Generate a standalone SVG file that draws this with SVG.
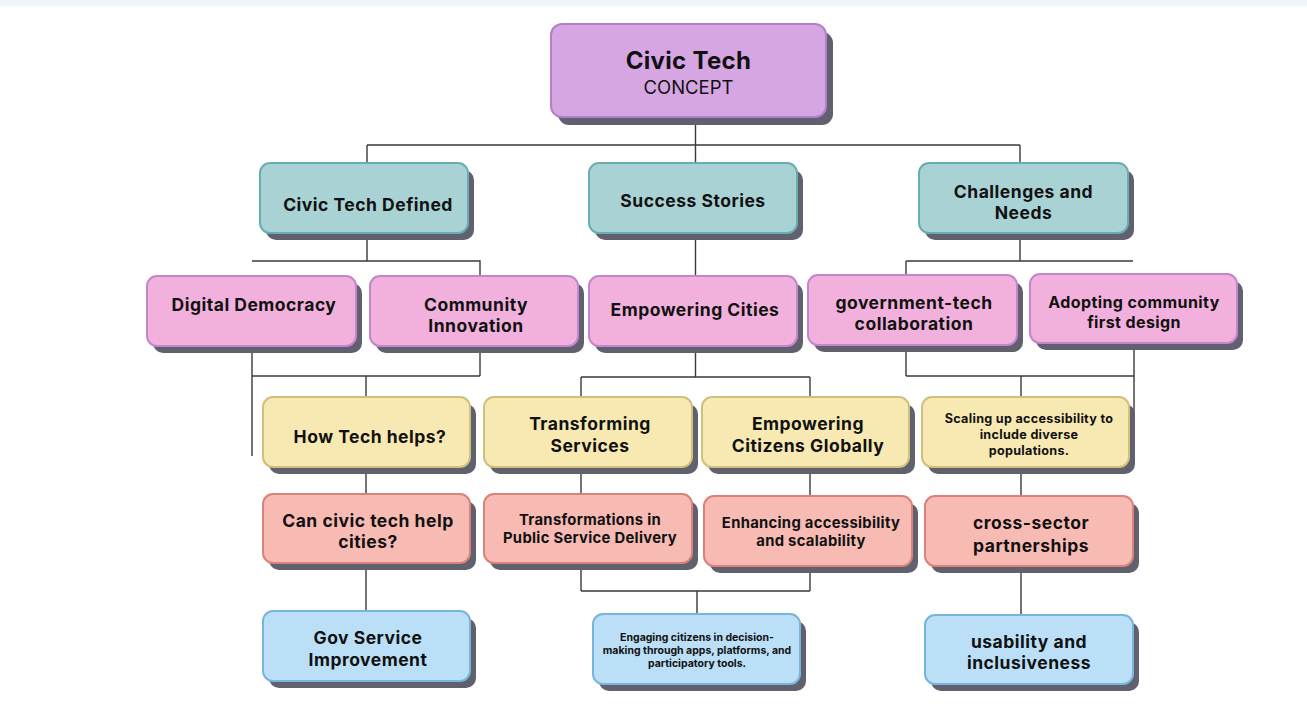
<svg xmlns="http://www.w3.org/2000/svg" width="1307" height="706" viewBox="0 0 1307 706">
  <style>
    .shadow { fill: #61606e; }
    .box { stroke-width: 2; }
    .concept { fill: #d6a6e3; stroke: #b27fc8; }
    .topic { fill: #a9d2d4; stroke: #6aadb1; }
    .sub { fill: #f1b1dc; stroke: #c485cf; }
    .q { fill: #f7e9b1; stroke: #cfc07b; }
    .pt { fill: #f8bbb4; stroke: #d9827b; }
    .out { fill: #badff6; stroke: #78b5dc; }
    text { font-family: Inter, "Liberation Sans", sans-serif; font-weight: 700; fill: #111; text-anchor: middle; }
    .t17 { font-size: 17.5px; letter-spacing: 0.5px; }
    .t15 { font-size: 16px; letter-spacing: 0.4px; }
    .t14 { font-size: 14.8px; letter-spacing: 0.3px; }
    .t12 { font-size: 12.6px; letter-spacing: 0.3px; }
    .t10 { font-size: 10.5px; }
    .links path { fill: none; stroke: #3a3a3a; stroke-width: 1.4; }
  </style>

  <!-- page band -->
  <rect x="0" y="0" width="1307" height="6" fill="#f0f4fb"/>
  <rect x="0" y="6" width="1307" height="700" fill="#ffffff"/>

  <!-- connectors -->
  <g class="links" id="connectors">
    <path d="M695.5,117 V163 M367,145 H1020 M367,145 V163 M1020,145 V163"/>
    <path d="M367,233 V261 M252,261 H480 V276"/>
    <path d="M695.5,233 V276"/>
    <path d="M1020,233 V261 M906,261 H1133 M906,261 V275"/>
    <path d="M252,346 V456 M480,346 V376 M252,376 H480 M366,376 V397"/>
    <path d="M695.5,346 V377 M581,377 H810 M581,377 V397 M810,377 V397"/>
    <path d="M906,345 V376 M1134,343 V460 M906,376 H1134 M1021,376 V397"/>
    <path d="M366,467 V494 M581,467 V494 M810,467 V496 M1021,467 V496"/>
    <path d="M366,563 V611"/>
    <path d="M581,563 V591 M810,566 V591 M581,591 H810 M697,591 V614"/>
    <path d="M1021,566 V615"/>
  </g>

  <!-- root -->
  <g id="civic-tech">
    <rect class="shadow" x="558" y="32" width="275" height="93" rx="11"/>
    <rect class="box concept" x="551" y="24" width="275" height="93" rx="11"/>
    <text x="688.5" y="69" style="font-size:24px;letter-spacing:0.3px">Civic Tech</text>
    <text x="688.5" y="94" style="font-size:18.5px;font-weight:400">CONCEPT</text>
  </g>

  <!-- level 2 -->
  <g id="civic-tech-defined">
    <rect class="shadow" x="266" y="170" width="208" height="70" rx="10"/>
    <rect class="box topic" x="260" y="163" width="208" height="70" rx="10"/>
    <text class="t17" x="368" y="211">Civic Tech Defined</text>
  </g>
  <g id="success-stories">
    <rect class="shadow" x="595" y="170" width="208" height="70" rx="10"/>
    <rect class="box topic" x="589" y="163" width="208" height="70" rx="10"/>
    <text class="t17" x="693" y="207">Success Stories</text>
  </g>
  <g id="challenges-needs">
    <rect class="shadow" x="925" y="170" width="209" height="70" rx="10"/>
    <rect class="box topic" x="919" y="163" width="209" height="70" rx="10"/>
    <text class="t17" x="1023.5" y="198">Challenges and</text>
    <text class="t17" x="1023.5" y="219">Needs</text>
  </g>

  <!-- level 3 -->
  <g id="digital-democracy">
    <rect class="shadow" x="153" y="283" width="209" height="70" rx="10"/>
    <rect class="box sub" x="147" y="276" width="209" height="70" rx="10"/>
    <text class="t17" x="254" y="311">Digital Democracy</text>
  </g>
  <g id="community-innovation">
    <rect class="shadow" x="376" y="283" width="208" height="70" rx="10"/>
    <rect class="box sub" x="370" y="276" width="208" height="70" rx="10"/>
    <text class="t17" x="476" y="311">Community</text>
    <text class="t17" x="476" y="332">Innovation</text>
  </g>
  <g id="empowering-cities">
    <rect class="shadow" x="595" y="283" width="208" height="70" rx="10"/>
    <rect class="box sub" x="589" y="276" width="208" height="70" rx="10"/>
    <text class="t17" x="695" y="316">Empowering Cities</text>
  </g>
  <g id="government-tech">
    <rect class="shadow" x="814" y="282" width="209" height="70" rx="10"/>
    <rect class="box sub" x="808" y="275" width="209" height="70" rx="10"/>
    <text class="t17" x="914" y="309">government-tech</text>
    <text class="t17" x="914" y="330">collaboration</text>
  </g>
  <g id="community-first">
    <rect class="shadow" x="1036" y="281" width="207" height="69" rx="10"/>
    <rect class="box sub" x="1030" y="274" width="207" height="69" rx="10"/>
    <text class="t15" x="1134" y="308">Adopting community</text>
    <text class="t15" x="1134" y="328">first design</text>
  </g>

  <!-- level 4 -->
  <g id="how-tech-helps">
    <rect class="shadow" x="269" y="404" width="207" height="70" rx="10"/>
    <rect class="box q" x="263" y="397" width="207" height="70" rx="10"/>
    <text class="t17" x="370" y="443">How Tech helps?</text>
  </g>
  <g id="transforming-services">
    <rect class="shadow" x="490" y="404" width="208" height="70" rx="10"/>
    <rect class="box q" x="484" y="397" width="208" height="70" rx="10"/>
    <text class="t17" x="590" y="430">Transforming</text>
    <text class="t17" x="590" y="452">Services</text>
  </g>
  <g id="empowering-citizens">
    <rect class="shadow" x="708" y="404" width="207" height="70" rx="10"/>
    <rect class="box q" x="702" y="397" width="207" height="70" rx="10"/>
    <text class="t17" x="808" y="430">Empowering</text>
    <text class="t17" x="808" y="452">Citizens Globally</text>
  </g>
  <g id="scaling-accessibility">
    <rect class="shadow" x="928" y="404" width="207" height="70" rx="10"/>
    <rect class="box q" x="922" y="397" width="207" height="70" rx="10"/>
    <text class="t12" x="1029" y="423">Scaling up accessibility to</text>
    <text class="t12" x="1029" y="439">include diverse</text>
    <text class="t12" x="1029" y="455">populations.</text>
  </g>

  <!-- level 5 -->
  <g id="can-civic-tech">
    <rect class="shadow" x="269" y="501" width="207" height="69" rx="10"/>
    <rect class="box pt" x="263" y="494" width="207" height="69" rx="10"/>
    <text class="t17" x="368" y="527">Can civic tech help</text>
    <text class="t17" x="368" y="548">cities?</text>
  </g>
  <g id="public-service-delivery">
    <rect class="shadow" x="490" y="501" width="208" height="69" rx="10"/>
    <rect class="box pt" x="484" y="494" width="208" height="69" rx="10"/>
    <text class="t14" x="590" y="525">Transformations in</text>
    <text class="t14" x="590" y="543">Public Service Delivery</text>
  </g>
  <g id="accessibility-scalability">
    <rect class="shadow" x="710" y="503" width="208" height="70" rx="10"/>
    <rect class="box pt" x="704" y="496" width="208" height="70" rx="10"/>
    <text class="t14" x="811" y="528">Enhancing accessibility</text>
    <text class="t14" x="811" y="546">and scalability</text>
  </g>
  <g id="cross-sector">
    <rect class="shadow" x="931" y="503" width="208" height="70" rx="10"/>
    <rect class="box pt" x="925" y="496" width="208" height="70" rx="10"/>
    <text class="t17" x="1031" y="529">cross-sector</text>
    <text class="t17" x="1031" y="552">partnerships</text>
  </g>

  <!-- level 6 -->
  <g id="gov-service">
    <rect class="shadow" x="269" y="618" width="207" height="70" rx="10"/>
    <rect class="box out" x="263" y="611" width="207" height="70" rx="10"/>
    <text class="t17" x="368" y="644">Gov Service</text>
    <text class="t17" x="368" y="666">Improvement</text>
  </g>
  <g id="engaging-citizens">
    <rect class="shadow" x="599" y="621" width="207" height="70" rx="10"/>
    <rect class="box out" x="593" y="614" width="207" height="70" rx="10"/>
    <text class="t10" x="697" y="641">Engaging citizens in decision-</text>
    <text class="t10" x="697" y="654">making through apps, platforms, and</text>
    <text class="t10" x="697" y="667">participatory tools.</text>
  </g>
  <g id="usability-inclusiveness">
    <rect class="shadow" x="931" y="622" width="208" height="69" rx="10"/>
    <rect class="box out" x="925" y="615" width="208" height="69" rx="10"/>
    <text class="t17" x="1029" y="648">usability and</text>
    <text class="t17" x="1029" y="669">inclusiveness</text>
  </g>
</svg>
